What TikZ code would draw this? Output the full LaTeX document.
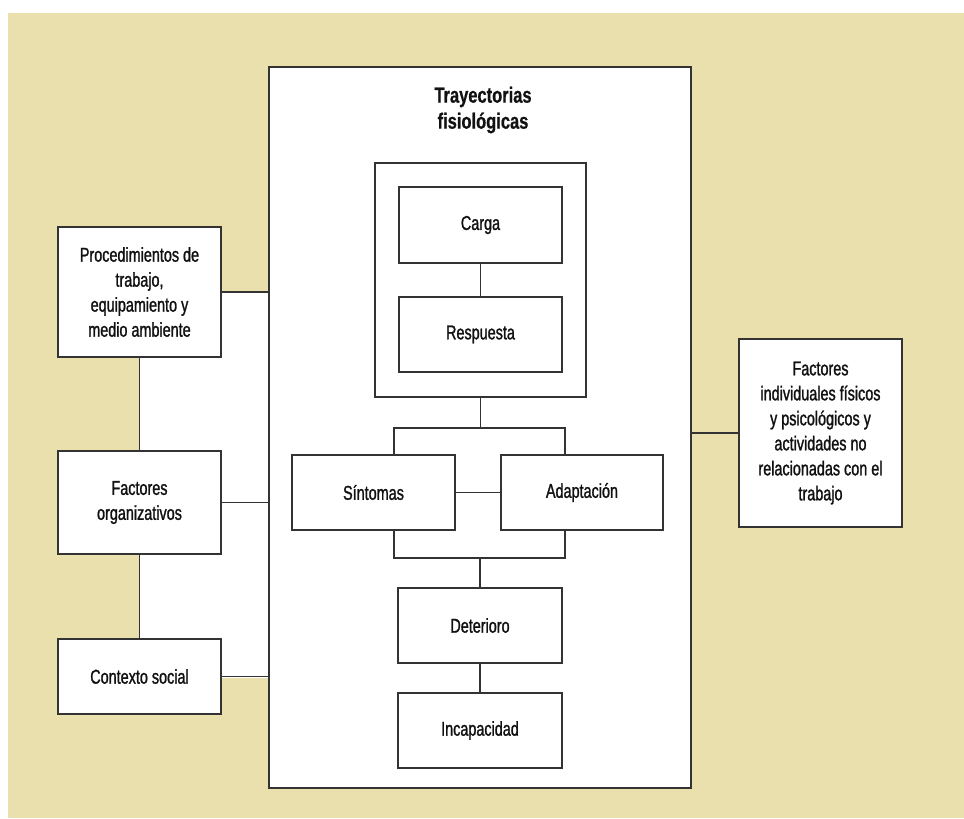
\documentclass[tikz,border=0pt]{standalone}
\usepackage{fontspec}
\setmainfont{Liberation Sans}[FakeStretch=0.73]
\newfontfamily\bodyfont{Liberation Sans}[FakeStretch=0.72,FakeBold=1.2]
\newfontfamily\titlefont{Liberation Sans Bold}[FakeStretch=0.75,FakeBold=0.6]
\definecolor{beige}{HTML}{EAE0AD}
\definecolor{linec}{HTML}{333333}
\definecolor{txt}{HTML}{111111}
\begin{document}
\begin{tikzpicture}[x=0.75pt,y=-0.75pt,
  font=\bodyfont\fontsize{15}{18.75}\selectfont,
  box/.style={draw=linec,line width=1.4pt,fill=white,inner sep=0pt,align=center,text=txt,
    minimum width=122.25pt,minimum height=56.25pt},
  conn/.style={draw=linec,line width=1.4pt}]
\useasboundingbox (0,0) rectangle (964,818);
\fill[beige] (8,13) rectangle (964,818);
\fill[white] (139,291) rectangle (269,678);
% main box
\node[box,minimum width=316.5pt,minimum height=540.75pt] (main) at (480,427.5) {};
\node[font=\titlefont\fontsize{16.5}{19.5}\selectfont,align=center,text=txt] (title) at (483,110) {Trayectorias\\fisiológicas};
\node[box,minimum width=158.25pt,minimum height=175.5pt] (frame) at (480.5,280) {};
\node[box,minimum height=57pt] (carga) at (480.5,225) {Carga};
\node[box] (resp) at (480.5,334.5) {Respuesta};
\node[box] (sint) at (373.5,492.5) {Síntomas};
\node[box,minimum width=121.5pt] (adap) at (582,492.5) {Adaptación};
\node[box,minimum width=123pt] (det) at (480,625.5) {Deterioro};
\node[box,minimum width=123pt] (inc) at (480,730.5) {Incapacidad};
% left boxes
\node[box,minimum height=97.5pt] (proc) at (139.5,292) {Procedimientos de\\trabajo,\\equipamiento y\\medio ambiente};
\node[box,minimum height=77.25pt] (org) at (139.5,502.5) {Factores\\organizativos};
\node[box] (ctx) at (139.5,676.5) {Contexto social};
% right box
\node[box,minimum height=141pt] (indiv) at (820.5,433) {Factores\\individuales físicos\\y psicológicos y\\actividades no\\relacionadas con el\\trabajo};
% coordinates
\coordinate (bl) at (394,428);
\coordinate (br) at (565,428);
\coordinate (bl2) at (394,558);
\coordinate (br2) at (565,558);
% connectors
\draw[conn] (proc.east) -- (proc.east -| main.west);
\draw[conn] (org.east) -- (org.east -| main.west);
\draw[conn] (ctx.east) -- (ctx.east -| main.west);
\draw[conn] (proc.south) -- (org.north);
\draw[conn] (org.south) -- (ctx.north);
\draw[conn] (indiv.west) -- (indiv.west -| main.east);
\draw[conn] (carga.south) -- (resp.north);
\draw[conn] (frame.south) -- (frame.south |- bl);
\draw[conn] (sint.north -| bl) -- (bl) -- (br) -- (adap.north -| br);
\draw[conn] (sint.east) -- (adap.west);
\draw[conn] (sint.south -| bl2) -- (bl2) -- (br2) -- (adap.south -| br2);
\draw[conn] (det.north |- bl2) -- (det.north);
\draw[conn] (det.south) -- (inc.north);
\end{tikzpicture}
\end{document}
